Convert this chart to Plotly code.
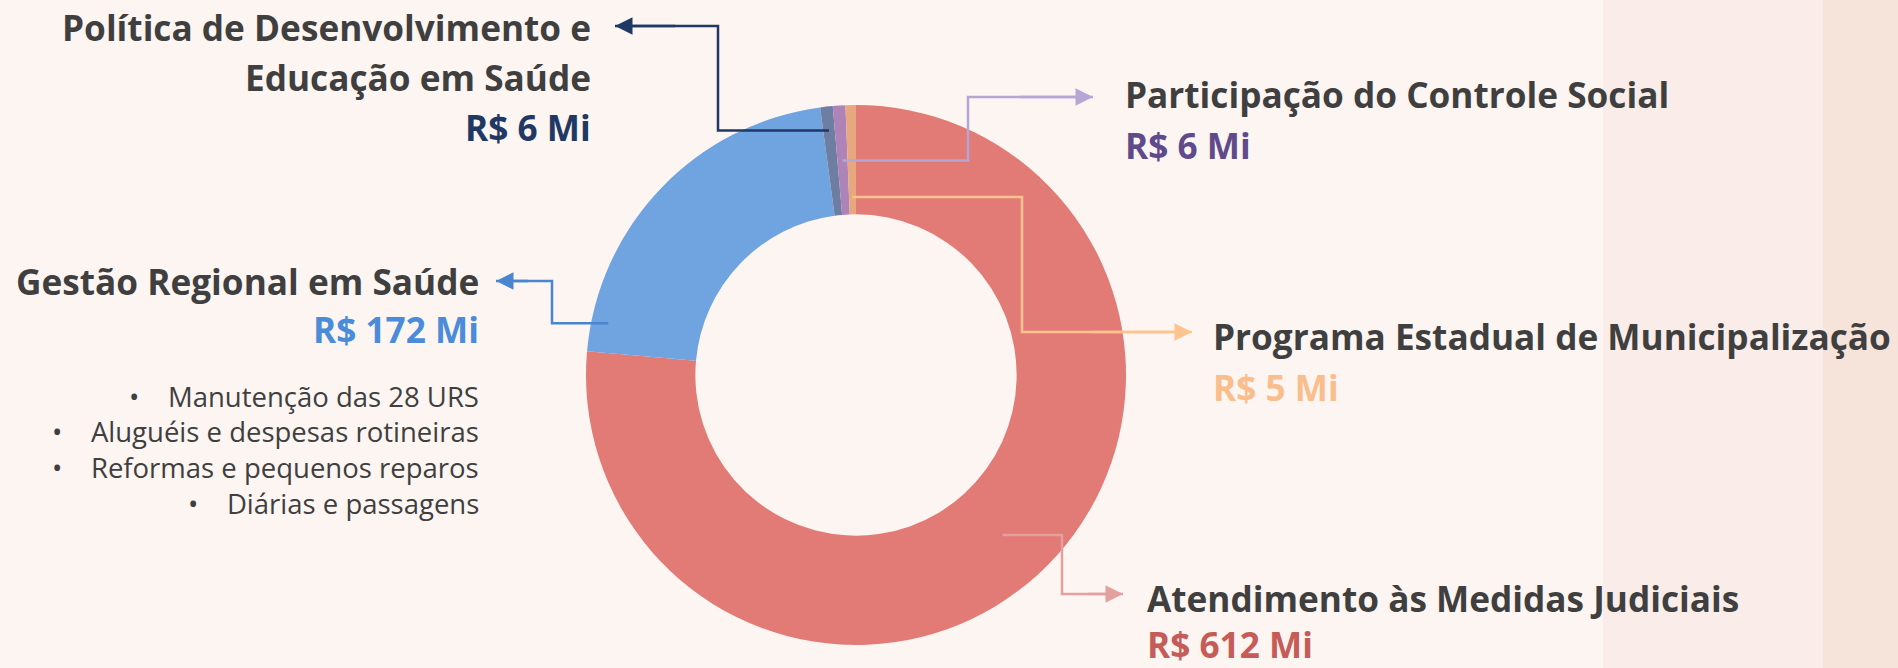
import math
import plotly.graph_objects as go

# ---------------- data ----------------
categories = [
    "Atendimento às Medidas Judiciais",
    "Gestão Regional em Saúde",
    "Política de Desenvolvimento e Educação em Saúde",
    "Participação do Controle Social",
    "Programa Estadual de Municipalização",
]
values = [612, 172, 6, 6, 5]          # R$ milhões
value_labels = ["R$ 612 Mi", "R$ 172 Mi", "R$ 6 Mi", "R$ 6 Mi", "R$ 5 Mi"]
title_lines = [
    ["Atendimento às Medidas Judiciais"],
    ["Gestão Regional em Saúde"],
    ["Política de Desenvolvimento e", "Educação em Saúde"],
    ["Participação do Controle Social"],
    ["Programa Estadual de Municipalização"],
]
gestao_bullets = [
    "Manutenção das 28 URS",
    "Aluguéis e despesas rotineiras",
    "Reformas e pequenos reparos",
    "Diárias e passagens",
]

# ---------------- style ----------------
slice_colors = ["#E27A76", "#6FA4E0", "#6E7EA3", "#AE83B8", "#E7A77F"]
value_colors = ["#C65C57", "#4A8CD9", "#1F3864", "#5F4B8B", "#F9BE8C"]
line_colors = ["#E3A09E", "#4A86D0", "#1F3864", "#B4A7D6", "#FFC38F"]
TEXT = "#3F3F3F"
BG = "#FDF5F2"
FONT = "Open Sans"

W, H = 1898, 668
CX, CY, R = 856, 375, 270


def px(x, y):
    return x / W, 1 - y / H


fig = go.Figure()
fig.add_trace(go.Pie(
    labels=categories, values=values, sort=False, direction="clockwise",
    rotation=0, hole=0.595, textinfo="none", hoverinfo="label+value",
    marker=dict(colors=slice_colors, line=dict(width=0)),
    domain=dict(x=[(CX - R) / W, (CX + R) / W], y=[1 - (CY + R) / H, 1 - (CY - R) / H]),
    showlegend=False,
))

# slice angles (clockwise from 12 o'clock)
total = sum(values)
starts, acc = [], 0
for v in values:
    starts.append(acc / total * 360)
    acc += v
spans = [v / total * 360 for v in values]


def anchor(i, frac, r):
    th = math.radians(starts[i] + frac * spans[i])
    return CX + r * math.sin(th), CY - r * math.cos(th)

# connector layout: (slice idx, frac, radius, elbow x, tip x, tip y)
connectors = [
    (0, 0.50, 217, 1062, 1123, 594),
    (1, 0.087, 253, 552, 496, 281),
    (2, 0.50, 246, 718, 615, 26),
    (3, 0.50, 215, 968, 1093, 97),
    (4, 0.50, 178, 1022, 1192, 332),
]

shapes = [
    dict(type="rect", xref="paper", yref="paper", x0=1603 / W, x1=1, y0=0, y1=1,
         fillcolor="#FAECE8", line=dict(width=0), layer="below"),
    dict(type="rect", xref="paper", yref="paper", x0=1823 / W, x1=1, y0=0, y1=1,
         fillcolor="#F6E3D9", line=dict(width=0), layer="below"),
]
annotations = []

for i, frac, r, ex, tx, ty in connectors:
    ax0, ay0 = anchor(i, frac, r)
    pts = [(ax0, ay0), (ex, ay0), (ex, ty), (tx, ty)]
    path = "M " + " L ".join(f"{px(x, y)[0]},{px(x, y)[1]}" for x, y in pts)
    shapes.append(dict(type="path", xref="paper", yref="paper", path=path,
                       line=dict(color=line_colors[i], width=2.5), layer="above"))
    tipx, tipy = px(tx, ty)
    annotations.append(dict(x=tipx, y=tipy, xref="paper", yref="paper", text="",
                            showarrow=True, arrowhead=2, arrowsize=1.4, arrowwidth=2.5,
                            arrowcolor=line_colors[i], ax=(ex - tx) * 0.6, ay=0))


def label(x, y, text, color, size, anchor_x, bold=True):
    x0, y0 = px(x, y)
    annotations.append(dict(x=x0, y=y0, xref="paper", yref="paper",
                            text=f"<b>{text}</b>" if bold else text, showarrow=False,
                            xanchor=anchor_x, yanchor="middle",
                            font=dict(family=FONT, size=size, color=color)))

TS = 35.2
# Atendimento
label(1145, 598, title_lines[0][0], TEXT, TS, "left")
label(1145, 644, value_labels[0], value_colors[0], TS, "left")
# Gestão
label(481, 281, title_lines[1][0], TEXT, TS, "right")
label(481, 329, value_labels[1], value_colors[1], TS, "right")
for yy, b in zip([396, 431, 467, 503], gestao_bullets):
    label(481, yy, "•\u00a0\u00a0\u00a0\u00a0" + b, TEXT, 27.5, "right", bold=False)
# Política
label(593, 27, title_lines[2][0], TEXT, TS, "right")
label(593, 77, title_lines[2][1], TEXT, TS, "right")
label(593, 127, value_labels[2], value_colors[2], TS, "right")
# Participação
label(1123, 94, title_lines[3][0], TEXT, TS, "left")
label(1123, 145, value_labels[3], value_colors[3], TS, "left")
# Programa
label(1211, 336, title_lines[4][0], TEXT, TS, "left")
label(1211, 387, value_labels[4], value_colors[4], TS, "left")

fig.update_layout(
    width=W, height=H, margin=dict(l=0, r=0, t=0, b=0),
    paper_bgcolor=BG, plot_bgcolor=BG,
    shapes=shapes, annotations=annotations,
)
fig.write_html("out.html", config={"displayModeBar": False},
               post_script="document.body.style.margin='0';")
